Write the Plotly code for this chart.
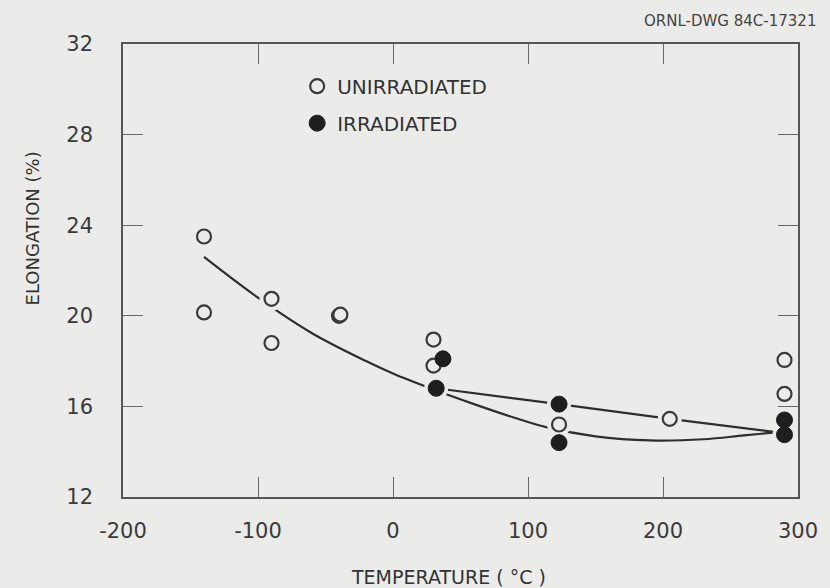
import plotly.graph_objects as go

# ---- data ----
unirr_temp = [-140, -140, -90, -90, -40, -39, 30, 30, 123, 205, 290, 290]
unirr_elong = [23.5, 20.15, 20.75, 18.8, 20.0, 20.05, 18.95, 17.8, 15.2, 15.45, 18.05, 16.55]

irr_temp = [37, 32, 123, 123, 290, 290]
irr_elong = [18.1, 16.8, 16.1, 14.4, 15.4, 14.75]

# hand-drawn fit curves
unirr_fit_temp = [-140, -100, -60, -20, 0, 32, 60, 90, 115, 150, 190, 230, 260, 285]
unirr_fit_elong = [22.6, 20.8, 19.23, 18.0, 17.45, 16.7, 16.1, 15.5, 15.06, 14.68, 14.5, 14.55, 14.72, 14.86]

irr_fit_temp = [32, 123, 205, 285]
irr_fit_elong = [16.8, 16.1, 15.45, 14.86]

x_ticks = [-200, -100, 0, 100, 200, 300]
y_ticks = [12, 16, 20, 24, 28, 32]

BG = "#ebebe9"
INK = "#2e2e2e"
FONT = "Liberation Sans"
WIDE = "DejaVu Sans"

fig = go.Figure()

# fit lines
for xs, ys in [(unirr_fit_temp, unirr_fit_elong), (irr_fit_temp, irr_fit_elong)]:
    fig.add_trace(go.Scatter(x=xs, y=ys, mode="lines",
                             line=dict(color=INK, width=2.2, shape="spline", smoothing=1.0),
                             showlegend=False, hoverinfo="skip"))

# halos around markers (break the lines near the symbols)
fig.add_trace(go.Scatter(x=unirr_temp + irr_temp, y=unirr_elong + irr_elong, mode="markers",
                         marker=dict(size=24, color=BG, line=dict(width=0)),
                         showlegend=False, hoverinfo="skip"))

fig.add_trace(go.Scatter(x=unirr_temp, y=unirr_elong, mode="markers", name="UNIRRADIATED",
                         legendgroup="a",
                         marker=dict(size=14, color=BG, line=dict(color="#3a3a3a", width=2.2))))
fig.add_trace(go.Scatter(x=irr_temp, y=irr_elong, mode="markers", name="IRRADIATED",
                         legendgroup="b",
                         marker=dict(size=16, color="#1e1e1e", line=dict(color="#1e1e1e", width=1))))

axis_common = dict(
    showgrid=False, zeroline=False, showline=True, linecolor="#555555", linewidth=1.6,
    mirror="ticks", ticks="inside", ticklen=20, tickwidth=1.2, tickcolor="#666666",
    tickfont=dict(family=WIDE, size=21, color="#3a3a3a"),
)

fig.update_xaxes(range=[-200, 300], tickvals=x_ticks, ticktext=[str(v) for v in x_ticks],
                 ticklabelstandoff=14, **axis_common)
fig.update_yaxes(range=[12, 32], tickvals=y_ticks, ticktext=[str(v) for v in y_ticks],
                 ticklabelstandoff=24, **axis_common)

# axis titles placed as in the reference
fig.add_annotation(text="TEMPERATURE ( °C )", xref="paper", yref="paper",
                   x=(450 - 123) / 678, y=-(577 - 497) / 453, xanchor="center", yanchor="middle",
                   showarrow=False, font=dict(family=WIDE, size=19, color="#333333"))
fig.add_annotation(text="ELONGATION (%)", xref="paper", yref="paper", textangle=-90,
                   x=-(123 - 33) / 678, y=(497 - 228) / 453, xanchor="center", yanchor="middle",
                   showarrow=False, font=dict(family=WIDE, size=18, color="#333333"))

fig.add_annotation(text="ORNL-DWG 84C-17321", xref="paper", yref="paper",
                   x=1.03, y=1.0, xanchor="right", yanchor="bottom", yshift=12,
                   showarrow=False, font=dict(family=WIDE, size=15, color="#444444"))

fig.update_layout(
    width=830, height=588,
    margin=dict(l=123, r=29, t=44, b=91),
    paper_bgcolor=BG, plot_bgcolor=BG,
    font=dict(family=FONT, color="#333333"),
    showlegend=True,
    legend=dict(x=0.258, y=0.95, xanchor="left", yanchor="top",
                bgcolor="rgba(0,0,0,0)", borderwidth=0,
                font=dict(family=WIDE, size=20, color="#333333"),
                tracegroupgap=8, itemwidth=30),
)

fig.write_html("out.html")
